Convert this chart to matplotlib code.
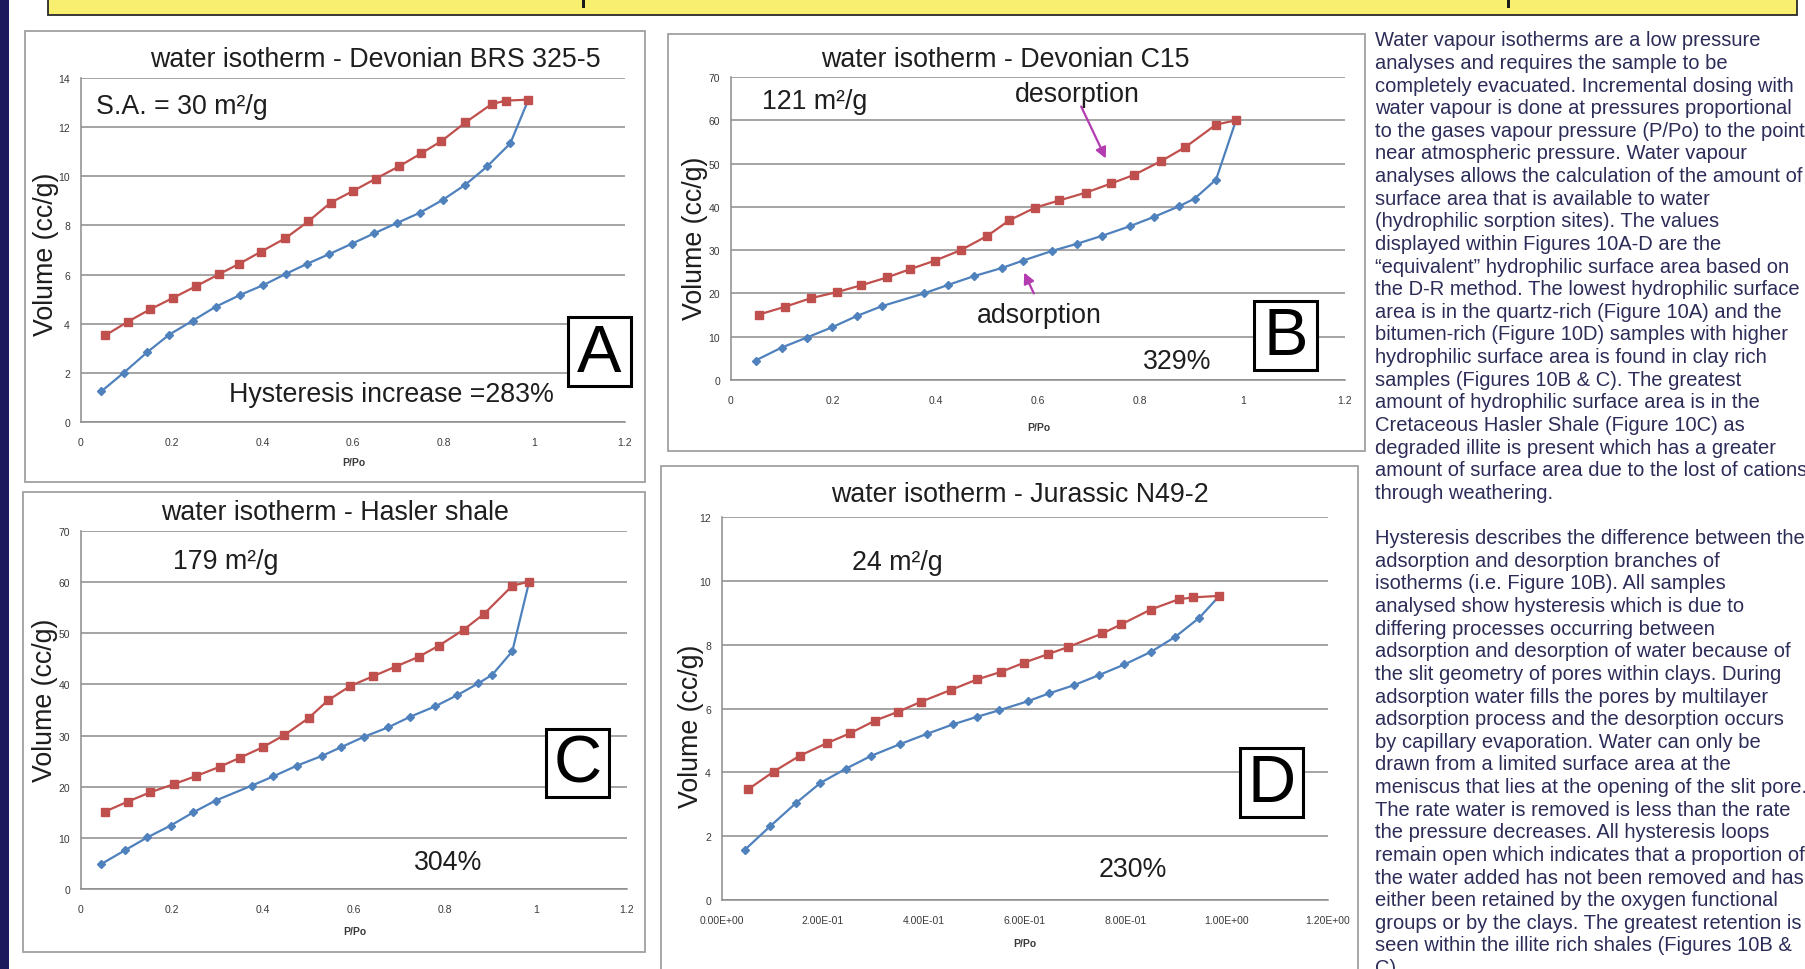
import numpy as np
import matplotlib
matplotlib.use("Agg")
import matplotlib.pyplot as plt
from matplotlib.patches import Rectangle, FancyArrowPatch

plt.rcParams['font.family'] = ['Liberation Sans', 'DejaVu Sans']

# ---- isotherm data (P/Po, volume cc/g) ----
# A: Devonian BRS 325-5
a_ads_x = [0.045, 0.094, 0.146, 0.195, 0.247, 0.297, 0.351, 0.402, 0.452, 0.499,
           0.546, 0.598, 0.647, 0.696, 0.748, 0.798, 0.848, 0.896, 0.947, 0.987]
a_ads_y = [1.25, 2.00, 2.84, 3.56, 4.13, 4.69, 5.17, 5.57, 6.03, 6.44,
           6.82, 7.26, 7.68, 8.09, 8.52, 9.04, 9.66, 10.40, 11.34, 13.12]
a_des_x = [0.054, 0.103, 0.152, 0.204, 0.254, 0.304, 0.349, 0.397, 0.451, 0.501,
           0.551, 0.601, 0.650, 0.702, 0.751, 0.795, 0.848, 0.906, 0.938, 0.987]
a_des_y = [3.53, 4.08, 4.58, 5.06, 5.53, 6.01, 6.44, 6.93, 7.48, 8.16,
           8.93, 9.41, 9.90, 10.41, 10.94, 11.43, 12.19, 12.94, 13.08, 13.12]

# B: Devonian C15
b_ads_x = [0.048, 0.099, 0.148, 0.198, 0.246, 0.296, 0.377, 0.425, 0.475, 0.530,
           0.571, 0.627, 0.677, 0.725, 0.779, 0.827, 0.875, 0.906, 0.948, 0.987]
b_ads_y = [4.5, 7.5, 9.8, 12.2, 14.8, 17.1, 20.0, 22.0, 24.0, 25.9,
           27.6, 29.8, 31.5, 33.3, 35.5, 37.7, 40.1, 41.9, 46.3, 60.0]
b_des_x = [0.054, 0.105, 0.156, 0.207, 0.255, 0.305, 0.350, 0.399, 0.449, 0.501,
           0.544, 0.594, 0.642, 0.694, 0.743, 0.788, 0.841, 0.888, 0.948, 0.987]
b_des_y = [15.1, 16.9, 18.9, 20.3, 21.9, 23.7, 25.6, 27.6, 30.0, 33.3,
           36.9, 39.8, 41.5, 43.3, 45.4, 47.4, 50.6, 53.8, 59.0, 60.0]

# C: Hasler shale
c_ads_x = [0.045, 0.097, 0.146, 0.197, 0.247, 0.296, 0.375, 0.422, 0.474, 0.529,
           0.571, 0.623, 0.675, 0.724, 0.778, 0.827, 0.873, 0.904, 0.948, 0.985]
c_ads_y = [4.9, 7.6, 10.1, 12.4, 15.0, 17.3, 20.2, 22.0, 24.1, 26.0,
           27.7, 29.8, 31.6, 33.7, 35.7, 37.9, 40.2, 41.9, 46.5, 60.1]
c_des_x = [0.052, 0.103, 0.152, 0.204, 0.253, 0.305, 0.350, 0.399, 0.447, 0.500,
           0.543, 0.592, 0.642, 0.692, 0.742, 0.787, 0.841, 0.886, 0.948, 0.985]
c_des_y = [15.1, 17.1, 18.9, 20.5, 22.1, 23.9, 25.7, 27.7, 30.1, 33.4,
           36.9, 39.7, 41.6, 43.5, 45.4, 47.6, 50.7, 53.8, 59.3, 60.1]

# D: Jurassic N49-2
d_ads_x = [0.045, 0.096, 0.146, 0.195, 0.246, 0.296, 0.352, 0.405, 0.457, 0.505,
           0.548, 0.606, 0.647, 0.697, 0.747, 0.797, 0.850, 0.898, 0.945, 0.985]
d_ads_y = [1.57, 2.32, 3.03, 3.67, 4.12, 4.52, 4.88, 5.20, 5.50, 5.74,
           5.94, 6.23, 6.47, 6.73, 7.05, 7.38, 7.78, 8.25, 8.84, 9.53]
d_des_x = [0.052, 0.102, 0.154, 0.207, 0.253, 0.303, 0.349, 0.394, 0.453, 0.505,
           0.553, 0.599, 0.645, 0.686, 0.753, 0.791, 0.849, 0.904, 0.932, 0.985]
d_des_y = [3.47, 4.02, 4.52, 4.91, 5.22, 5.62, 5.90, 6.21, 6.58, 6.91,
           7.15, 7.44, 7.70, 7.93, 8.35, 8.64, 9.10, 9.42, 9.48, 9.53]

# axis ticks
ppo_ticks = [0, 0.2, 0.4, 0.6, 0.8, 1.0, 1.2]
a_yticks = [0, 2, 4, 6, 8, 10, 12, 14]
bc_yticks = [0, 10, 20, 30, 40, 50, 60, 70]
d_yticks = [0, 2, 4, 6, 8, 10, 12]

titles = ["water isotherm - Devonian BRS 325-5", "water isotherm - Devonian C15",
          "water isotherm - Hasler shale", "water isotherm - Jurassic N49-2"]

para1 = [
    "Water vapour isotherms are a low pressure",
    "analyses and requires the sample to be",
    "completely evacuated. Incremental dosing with",
    "water vapour is done at pressures proportional",
    "to the gases vapour pressure (P/Po) to the point",
    "near atmospheric pressure. Water vapour",
    "analyses allows the calculation of the amount of",
    "surface area that is available to water",
    "(hydrophilic sorption sites). The values",
    "displayed within Figures 10A-D are the",
    "\u201cequivalent\u201d hydrophilic surface area based on",
    "the D-R method. The lowest hydrophilic surface",
    "area is in the quartz-rich (Figure 10A) and the",
    "bitumen-rich (Figure 10D) samples with higher",
    "hydrophilic surface area is found in clay rich",
    "samples (Figures 10B & C). The greatest",
    "amount of hydrophilic surface area is in the",
    "Cretaceous Hasler Shale (Figure 10C) as",
    "degraded illite is present which has a greater",
    "amount of surface area due to the lost of cations",
    "through weathering.",
]
para2 = [
    "Hysteresis describes the difference between the",
    "adsorption and desorption branches of",
    "isotherms (i.e. Figure 10B). All samples",
    "analysed show hysteresis which is due to",
    "differing processes occurring between",
    "adsorption and desorption of water because of",
    "the slit geometry of pores within clays. During",
    "adsorption water fills the pores by multilayer",
    "adsorption process and the desorption occurs",
    "by capillary evaporation. Water can only be",
    "drawn from a limited surface area at the",
    "meniscus that lies at the opening of the slit pore.",
    "The rate water is removed is less than the rate",
    "the pressure decreases. All hysteresis loops",
    "remain open which indicates that a proportion of",
    "the water added has not been removed and has",
    "either been retained by the oxygen functional",
    "groups or by the clays. The greatest retention is",
    "seen within the illite rich shales (Figures 10B &",
    "C).",
]

RED = '#C0504D'
BLUE = '#4F81BD'
GRID = '#8C8C8C'
MAGENTA = '#B23CB0'
TXT = '#1E1E1E'

W, H = 1805, 970
fig = plt.figure(figsize=(W / 100, H / 100), dpi=100)
fig.patch.set_facecolor('white')


def fx(x):
    return x / W


def fy(y):
    return 1 - y / H


def frect(l, t, r, b, **kw):
    fig.add_artist(Rectangle((fx(l), fy(b)), (r - l) / W, (b - t) / H,
                             transform=fig.transFigure, **kw))


def ftext(x, y, s, **kw):
    fig.text(fx(x), fy(y), s, **kw)


def panel(pos, ads_x, ads_y, des_x, des_y, yticks, fmt):
    l, t, r, b = pos
    ax = fig.add_axes([fx(l), fy(b), (r - l) / W, (b - t) / H])
    ax.patch.set_alpha(0)
    ax.plot(ads_x, ads_y, color=BLUE, lw=1.6, marker='D', ms=4.2,
            zorder=3, clip_on=False)
    ax.plot(des_x, des_y, color=RED, lw=1.6, marker='s', ms=6,
            zorder=4, clip_on=False)
    ax.set_xlim(ppo_ticks[0], ppo_ticks[-1])
    ax.set_ylim(yticks[0], yticks[-1])
    ax.set_xticks(ppo_ticks)
    ax.set_xticklabels([fmt(v) for v in ppo_ticks])
    ax.set_yticks(yticks)
    ax.set_yticklabels(['%g' % v for v in yticks])
    ax.yaxis.grid(True, color=GRID, lw=1.1)
    ax.set_axisbelow(True)
    for s in ['top', 'right']:
        ax.spines[s].set_visible(False)
    for s in ['left', 'bottom']:
        ax.spines[s].set_color(GRID)
        ax.spines[s].set_linewidth(1.1)
    ax.tick_params(axis='x', length=0, pad=11, labelsize=7.5, colors='#3A3A3A')
    ax.tick_params(axis='y', length=0, pad=8, labelsize=7.5, colors='#3A3A3A')
    for lab in ax.get_xticklabels() + ax.get_yticklabels():
        lab.set_family(['Liberation Sans Narrow', 'Liberation Sans'])
    return ax


def letter_box(l, t, r, b, s):
    frect(l, t, r, b, fc='white', ec='black', lw=2.2, zorder=5)
    ftext((l + r) / 2, (t + b) / 2 + 2, s, fontsize=48, ha='center',
          va='center', color='black', zorder=6)


# page furniture
frect(0, 0, 9, H, fc='#1C1A5C', ec='none')
frect(48, -5, 1797, 16, fc='#F8EE70', ec='#2A2A2A', lw=1.3)
for xd in [583, 1508]:
    frect(xd - 1.5, 0, xd + 1.5, 9, fc='#1A1A1A', ec='none')

# panel frames
for l, t, r, b in [(25, 32, 645, 483), (668, 35, 1365, 452),
                   (23, 493, 645, 953), (661, 467, 1358, 975)]:
    frect(l, t, r, b, fc='white', ec='#A0A0A0', lw=1.3, zorder=0)

sci = lambda v: '%.2E' % v
plain = lambda v: '%g' % v

ax_a = panel((81, 79, 625, 423), a_ads_x, a_ads_y, a_des_x, a_des_y, a_yticks, plain)
ax_b = panel((731, 78, 1345, 381), b_ads_x, b_ads_y, b_des_x, b_des_y, bc_yticks, plain)
ax_c = panel((81, 532, 627, 890), c_ads_x, c_ads_y, c_des_x, c_des_y, bc_yticks, plain)
ax_d = panel((722, 518, 1328, 901), d_ads_x, d_ads_y, d_des_x, d_des_y, d_yticks, sci)

# titles, axis labels
big = dict(fontsize=19.3, color=TXT)
for (x, y), s in zip([(375, 60), (1005, 60), (335, 513), (1020, 495)], titles):
    ftext(x, y, s, ha='center', va='center', **big)
for x, y in [(46, 254), (695, 238), (45, 700), (691, 726)]:
    ftext(x, y, "Volume (cc/g)", ha='center', va='center', rotation=90, **big)
for x, y in [(354, 463), (1039, 428), (355, 932), (1025, 944)]:
    ftext(x, y, "P/Po", ha='center', va='center', fontsize=7.5, weight='bold',
          color='#3A3A3A')

# panel notes
ftext(96, 107, "S.A. = 30 m\u00b2/g", ha='left', va='center', **big)
ftext(229, 395, "Hysteresis increase =283%", ha='left', va='center', **big)
ftext(762, 102, "121 m\u00b2/g", ha='left', va='center', **big)
ftext(1015, 95, "desorption", ha='left', va='center', **big)
ftext(977, 316, "adsorption", ha='left', va='center', **big)
ftext(1143, 362, "329%", ha='left', va='center', **big)
ftext(173, 562, "179 m\u00b2/g", ha='left', va='center', **big)
ftext(414, 863, "304%", ha='left', va='center', **big)
ftext(852, 563, "24 m\u00b2/g", ha='left', va='center', **big)
ftext(1099, 870, "230%", ha='left', va='center', **big)

# arrows to the two branches in B
arrow = dict(arrowstyle='-|>', color=MAGENTA, lw=1.6, mutation_scale=16)
fig.add_artist(FancyArrowPatch((fx(1080), fy(105)), (fx(1107), fy(162)),
                               transform=fig.transFigure, **arrow))
fig.add_artist(FancyArrowPatch((fx(1035), fy(297)), (fx(1023), fy(271)),
                               transform=fig.transFigure, **arrow))

letter_box(568, 318, 631, 387, "A")
letter_box(1254, 302, 1317, 371, "B")
letter_box(546, 730, 609, 798, "C")
letter_box(1240, 749, 1303, 818, "D")

# text column
lines = para1 + [""] + para2
for i, s in enumerate(lines):
    ftext(1375, 40.3 + i * 22.63 + 6, s, ha='left', va='baseline',
          fontsize=14.5, color='#2C2C58')

fig.savefig("out.png", dpi=100, facecolor='white')
